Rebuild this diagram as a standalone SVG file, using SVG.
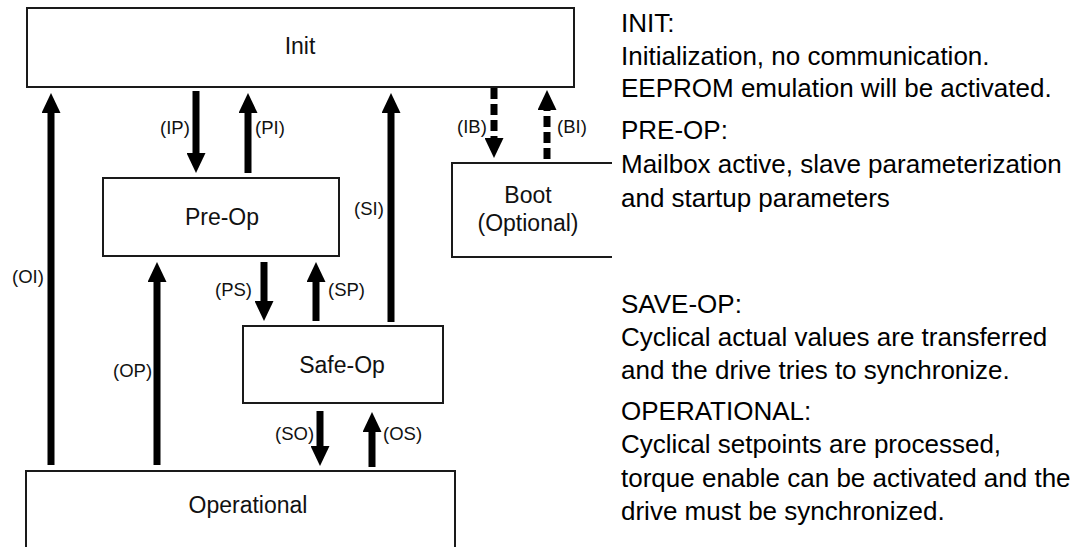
<svg xmlns="http://www.w3.org/2000/svg" width="1080" height="547" viewBox="0 0 1080 547">
<defs>
<style>
.box{fill:#fff;stroke:#1a1a1a;stroke-width:2}
.lbl{font-family:"Liberation Sans",Arial,sans-serif;font-size:23px;fill:#111;text-anchor:middle}
.tl{font-family:"Liberation Sans",Arial,sans-serif;font-size:18.5px;fill:#111}
.desc{font-family:"Liberation Sans",Arial,sans-serif;font-size:26px;fill:#000}
.ar{stroke:#000;stroke-width:7;fill:none;marker-end:url(#head)}
.dash{stroke-dasharray:11 5}
</style>
<marker id="head" markerUnits="userSpaceOnUse" markerWidth="20" markerHeight="19" refX="0" refY="9.5" orient="auto">
<path d="M0,0 L20,9.5 L0,19 z" fill="#000"/>
</marker>
</defs>
<rect width="1080" height="547" fill="#fff"/>
<g id="connectors">
<line class="ar" x1="51" y1="465" x2="51" y2="113"/>
<line class="ar" x1="196" y1="91" x2="196" y2="153"/>
<line class="ar" x1="248" y1="173" x2="248" y2="113"/>
<line class="ar" x1="391" y1="322" x2="391" y2="113"/>
<line class="ar dash" x1="494" y1="88" x2="494" y2="138"/>
<line class="ar dash" x1="547" y1="159" x2="547" y2="110"/>
<line class="ar" x1="157" y1="465" x2="157" y2="282"/>
<line class="ar" x1="264" y1="262" x2="264" y2="301"/>
<line class="ar" x1="316" y1="321" x2="316" y2="282"/>
<line class="ar" x1="320" y1="411" x2="320" y2="446"/>
<line class="ar" x1="372" y1="467" x2="372" y2="432"/>
<text class="tl" x="12" y="283">(OI)</text>
<text class="tl" x="160" y="134">(IP)</text>
<text class="tl" x="255" y="134">(PI)</text>
<text class="tl" x="354" y="215">(SI)</text>
<text class="tl" x="457" y="133">(IB)</text>
<text class="tl" x="557" y="133">(BI)</text>
<text class="tl" x="113" y="377">(OP)</text>
<text class="tl" x="215" y="296">(PS)</text>
<text class="tl" x="328" y="296">(SP)</text>
<text class="tl" x="275" y="440">(SO)</text>
<text class="tl" x="383" y="440">(OS)</text>
</g>
<g id="init">
<rect class="box" x="27" y="8" width="547" height="79"/>
<text class="lbl" x="300" y="54">Init</text>
</g>
<g id="preop">
<rect class="box" x="103" y="178" width="236" height="78"/>
<text class="lbl" x="222" y="225">Pre-Op</text>
</g>
<g id="boot">
<path class="box" d="M612,163 H452 V257 H612"/>
<text class="lbl" x="528" y="203">Boot</text>
<text class="lbl" x="528" y="231">(Optional)</text>
</g>
<g id="safeop">
<rect class="box" x="243" y="326" width="200" height="77"/>
<text class="lbl" x="342" y="373">Safe-Op</text>
</g>
<g id="operational">
<path class="box" d="M26,549 V471 H455 V549"/>
<text class="lbl" x="248" y="513">Operational</text>
</g>
<g id="description">
<text class="desc" x="621" y="32">INIT:</text>
<text class="desc" x="621" y="65">Initialization, no communication.</text>
<text class="desc" x="621" y="97">EEPROM emulation will be activated.</text>
<text class="desc" x="621" y="139">PRE-OP:</text>
<text class="desc" x="621" y="173">Mailbox active, slave parameterization</text>
<text class="desc" x="621" y="207">and startup parameters</text>
<text class="desc" x="621" y="313">SAVE-OP:</text>
<text class="desc" x="621" y="346">Cyclical actual values are transferred</text>
<text class="desc" x="621" y="379">and the drive tries to synchronize.</text>
<text class="desc" x="621" y="420">OPERATIONAL:</text>
<text class="desc" x="621" y="453">Cyclical setpoints are processed,</text>
<text class="desc" x="621" y="487">torque enable can be activated and the</text>
<text class="desc" x="621" y="520">drive must be synchronized.</text>
</g>
</svg>
